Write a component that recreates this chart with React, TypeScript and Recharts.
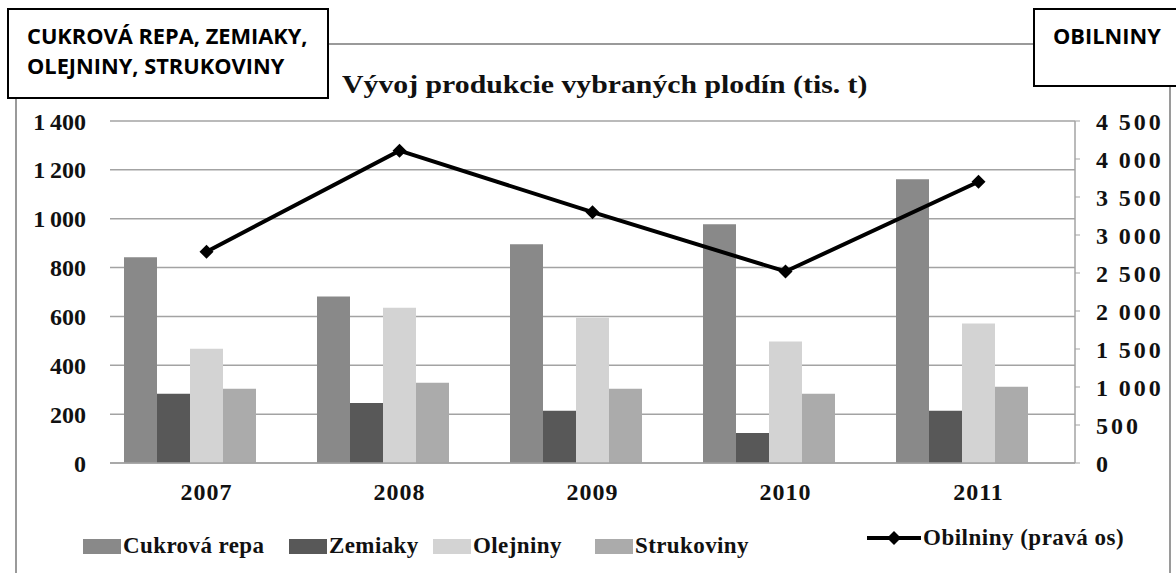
import React from "react";
import {
  ComposedChart, Bar, Line, XAxis, YAxis, CartesianGrid,
} from "recharts";

const years = ["2007", "2008", "2009", "2010", "2011"];
const cukrovaRepa = [842, 682, 895, 977, 1162];
const zemiaky = [283, 246, 214, 123, 214];
const olejniny = [468, 636, 595, 497, 571];
const strukoviny = [304, 328, 304, 283, 312];
const obilniny = [2780, 4110, 3300, 2520, 3700];

const leftTicks = [0, 200, 400, 600, 800, 1000, 1200, 1400];
const rightTicks = [0, 500, 1000, 1500, 2000, 2500, 3000, 3500, 4000, 4500];

const barSeries = [
  { key: "cukrova", name: "Cukrová repa", color: "#898989", values: cukrovaRepa },
  { key: "zemiaky", name: "Zemiaky", color: "#585858", values: zemiaky },
  { key: "olejniny", name: "Olejniny", color: "#d3d3d3", values: olejniny },
  { key: "strukoviny", name: "Strukoviny", color: "#ababab", values: strukoviny },
];
const lineName = "Obilniny (pravá os)";

const data = years.map((year, i) => ({
  year,
  cukrova: cukrovaRepa[i],
  zemiaky: zemiaky[i],
  olejniny: olejniny[i],
  strukoviny: strukoviny[i],
  obilniny: obilniny[i],
}));

const serif = "'Liberation Serif', 'Times New Roman', serif";
const sans = "'Open Sans', sans-serif";

// thousands separated by a thin space, as in the Slovak original
const fmt = (v: number) =>
  v >= 1000 ? `${Math.floor(v / 1000)}\u2009${String(v % 1000).padStart(3, "0")}` : String(v);

const tickStyle = { fontFamily: serif, fontWeight: 700, fontSize: 24, fill: "#111" };

function Diamond({ cx, cy }: { cx?: number; cy?: number }) {
  if (cx == null || cy == null) return null;
  const r = 7;
  return (
    <polygon
      points={`${cx},${cy - r} ${cx + r},${cy} ${cx},${cy + r} ${cx - r},${cy}`}
      fill="#000"
    />
  );
}

const legendPos = [83, 289, 433, 595];
const legendText: React.CSSProperties = {
  fontFamily: serif, fontWeight: 700, fontSize: 23, color: "#111", whiteSpace: "nowrap", letterSpacing: 0.4,
};

export default function App() {
  return (
    <div style={{ position: "absolute", left: 0, top: 0, width: 1176, height: 573, background: "#fff", overflow: "hidden" }}>
      {/* outer chart frame */}
      <div
        style={{
          position: "absolute", left: 15, top: 43, width: 1152, height: 560,
          borderTop: "2px solid #9a9a9a", borderLeft: "2px solid #9a9a9a", borderRight: "2px solid #9a9a9a",
        }}
      />
      <div
        style={{
          position: "absolute", left: 342, top: 70, fontFamily: serif, fontWeight: 700,
          fontSize: 26, color: "#111", whiteSpace: "nowrap",
          transform: "scaleX(1.145)", transformOrigin: "left center",
        }}
      >
        Vývoj produkcie vybraných plodín (tis. t)
      </div>

      <div style={{ position: "absolute", left: 0, top: 0 }}>
        <ComposedChart
          width={1176}
          height={573}
          data={data}
          margin={{ top: 121, right: 1, bottom: 70, left: 30 }}
          barGap={0}
          barSize={33}
        >
          <CartesianGrid vertical={false} stroke="#a3a3a3" strokeWidth={1.5} yAxisId="left" />
          <XAxis
            xAxisId="line"
            dataKey="year"
            axisLine={{ stroke: "#a3a3a3", strokeWidth: 1.5 }}
            tickLine={false}
            tick={{ ...tickStyle, letterSpacing: 1 }}
            tickMargin={14}
            height={40}
          />
          {/* Excel drew the bar groups a little left of the category centre */}
          <XAxis xAxisId="bars" dataKey="year" hide height={0} padding={{ left: -17, right: 17 }} />
          <YAxis
            yAxisId="left"
            domain={[0, 1400]}
            ticks={leftTicks}
            tickFormatter={fmt}
            axisLine={false}
            tickLine={false}
            tick={tickStyle}
            tickMargin={18}
            width={80}
          />
          <YAxis
            yAxisId="right"
            orientation="right"
            domain={[0, 4500]}
            ticks={rightTicks}
            tickFormatter={fmt}
            axisLine={{ stroke: "#a3a3a3", strokeWidth: 1.5 }}
            tickLine={{ stroke: "#a3a3a3" }}
            tickSize={5}
            tick={{ ...tickStyle, textAnchor: "start", letterSpacing: 3 }}
            tickMargin={16}
            width={100}
          />
          {barSeries.map((s) => (
            <Bar
              key={s.key}
              dataKey={s.key}
              name={s.name}
              fill={s.color}
              xAxisId="bars"
              yAxisId="left"
              isAnimationActive={false}
            />
          ))}
          <Line
            dataKey="obilniny"
            name={lineName}
            xAxisId="line"
            yAxisId="right"
            stroke="#000"
            strokeWidth={4}
            dot={<Diamond />}
            activeDot={false}
            isAnimationActive={false}
          />
        </ComposedChart>
      </div>

      {/* legend */}
      {barSeries.map((s, i) => (
        <div
          key={s.key}
          style={{ position: "absolute", left: legendPos[i], top: 533, display: "flex", alignItems: "center", ...legendText }}
        >
          <span style={{ display: "inline-block", width: 38, height: 15, background: s.color, marginRight: 2 }} />
          {s.name}
        </div>
      ))}
      <div
        style={{ position: "absolute", left: 867, top: 525, display: "flex", alignItems: "center", ...legendText, letterSpacing: 0.5 }}
      >
        <svg width={54} height={16} style={{ marginRight: 2 }}>
          <line x1={0} y1={8} x2={54} y2={8} stroke="#000" strokeWidth={4} />
          <polygon points="27,1 34,8 27,15 20,8" fill="#000" />
        </svg>
        {lineName}
      </div>

      {/* header boxes */}
      <div
        style={{
          position: "absolute", left: 7, top: 8, width: 322, height: 91, background: "#fff",
          border: "2px solid #000", fontFamily: sans, fontWeight: 700, fontSize: 21.8, lineHeight: "30px",
          color: "#000", paddingLeft: 18, paddingTop: 11, boxSizing: "border-box",
        }}
      >
        CUKROVÁ REPA, ZEMIAKY,
        <br />
        OLEJNINY, STRUKOVINY
      </div>
      <div
        style={{
          position: "absolute", left: 1033, top: 8, width: 160, height: 79, background: "#fff",
          border: "2px solid #000", fontFamily: sans, fontWeight: 700, fontSize: 21.8, lineHeight: "30px",
          color: "#000", paddingLeft: 18, paddingTop: 11, boxSizing: "border-box",
        }}
      >
        OBILNINY
      </div>
    </div>
  );
}
